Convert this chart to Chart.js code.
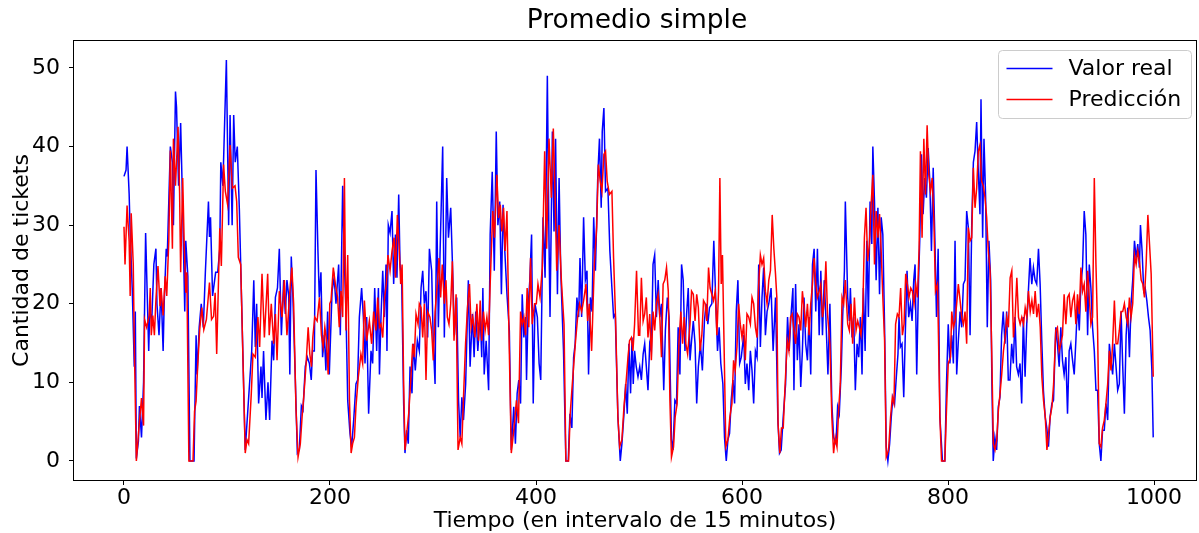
<!DOCTYPE html>
<html>
<head>
<meta charset="utf-8">
<script src="https://cdn.jsdelivr.net/npm/chart.js@4.4.1/dist/chart.umd.min.js"></script>
<style>
  html, body { margin: 0; padding: 0; background: #fff; }
  canvas { display: block; }
</style>
</head>
<body>
<canvas id="chart" width="1199" height="533"></canvas>
<script>
// Datos: [intervalo, cantidad de tickets]
const valorReal = [
  [0,36.2],[2,37],[3,40],[5,34],[6,29],[8,22],[10,12],[11,19],[12,0.3],[14,2.5],[15,7],[17,3],[19,10],[21,29],[23,19],[24,14],[25,19],[27,18],[29,25],[31,27],[32,20],[34,16],[36,22],[38,14],[39,20],[41,27],[42,26],[45,40],[47,38],[48,30],[50,47],[51,45],[53,35],[55,43],[57,32],[59,19],[60,28],[62,23.5],[64,0],[68,0],[70,16],[71,11],[73,17],[75,20],[77,17],[79,24],[82,33],[83,28.5],[84,31],[86,21],[89,24],[91,24],[93,27],[94,38],[96,35],
  [99.4,51],[101.6,30],[103,44],[105,30],[106.5,44],[108,38],[110,40],[112,32],[117.7,1.4],[121,8],[124,14],[126,23],[127.5,14.5],[128.8,20],[130.7,7.3],[133,12],[134,8],[135.5,14],[137.8,5.2],[139.8,10],[141.4,5.2],[143.7,15.3],[145.3,12.8],[147,20.8],[149,22],[150.8,27],[152.8,16],[155,23],[156.6,18.7],[158.2,23],[159.9,21],[161,11],[162.4,26],[164,20.8],[166.4,10],[168.3,1],[170.2,1.4],[172.2,7],[173.8,6.5],[176,12],[178,13.2],[180,12.4],[181.8,10.3],[183,14],[184.8,14],[186.4,37],[188.3,26.7],[189.6,20.8],[191.2,24],[192.8,13.2],[194.5,16],[196,11.5],
  [197.7,19],[199.3,11],[202,21.6],[204,23.3],[205.8,20],[208.4,25],[210,16],[212.3,35],[214,25],[215.5,19],[217.2,7.7],[219.4,3.5],[221,1.8],[223,5.2],[225.2,9.8],[226.8,10.3],[228.5,18.3],[230.7,22],[232.4,18.3],[234,12.4],[235.6,18.3],[237.5,6],[239.8,14],[241.4,12.4],[243.4,22],[245.3,14],[247,22],[248,11],[249.5,18.3],[251.2,24.2],[252.8,18.3],[254.4,25],[255.3,14],[256.6,30],[258.3,29],[260.2,31.8],[261.8,22.5],[263.5,28.8],[265,23.3],[266.7,33.9],[268,25],[269.6,22.9],[271.5,7.3],[272.8,1],[274.4,3.9],[276,2.2],[277.7,12],[279.6,8.6],[280.9,14.9],[282.8,11.5],[284.8,15.3],[286.7,14],[288.4,22],[290,24.2],[291.6,20],[293.2,21.6],[294.8,15.7],[296.5,27],
  [298.7,24.2],[300.3,14.9],[302,9.8],[303.6,33],[305.2,17],[306.8,26.2],[309.4,40],[311,15.7],[313.3,36],[315,28.4],[317.2,32.2],[318.8,25.4],[320.8,16],[323,20.8],[324.8,7.7],[326.4,3],[328,8.1],[329.6,5.2],[331.7,9.8],[334.3,23],[336,12],[338.2,18.7],[339.9,13.2],[341.5,19],[343.5,14],[345.8,18.7],[347.3,13.2],[348.4,22],[349.7,11],[351.6,15.3],[354,9],[355.5,28.8],[357.5,36.8],[359.5,24.2],[361.4,41.9],[363,30],[364.8,33],[366.4,21.2],[368,32.6],[369.6,27],[371.8,21.2],[374.1,16.6],[376,1.4],[378.4,6.9],[380,2.2],[381.7,8.6],[383.3,10.3],[385,7.3],[386.6,21.2],[388.2,15.7],[389.9,18.3],[390.8,10.3],[392.5,20],[394,23],[395.7,28.8],[397.3,7.3],[399,20],
  [401.3,18.3],[403,12.4],[404.6,10.3],[406.8,31],[408.8,23.3],[411,49],[412.6,28],[413.6,18.3],[415.9,41.9],[417.5,29.2],[419,41],[420.8,21.2],[422.4,36],[424,24.2],[426.7,14],[429,0],[431.3,0],[432.9,6],[434.8,4.2],[436.5,13.2],[438,14.9],[439.7,20.8],[441.4,18.3],[442.7,25.8],[444.3,18.3],[446.2,31],[447.9,23],[449.5,24.2],[451,11],[452.8,20.8],[454.4,19],[456,31],[457.7,24.2],[460,36.4],[461.6,41],[463.3,32.2],[464.3,41.9],[465.9,44.9],[467.5,34.3],[469.8,34.7],[471.7,26.7],[473.7,22],[475.3,18.3],[476.9,18.7],[479.5,5.6],[481.8,0],[483.4,2.2],[485.4,6],[487,9.8],[488.6,6],[490.2,14.9],[491.8,8.6],[493.2,15.7],[494.4,9.8],[495.7,14],[497.3,12],[499,10.7],
  [500.7,12],[502.3,10.3],[504,13.6],[505.5,14.9],[507.1,12],[508.7,9],[510.4,14.9],[512,14],[513.6,25],[515.2,26.2],[516.9,18.3],[518.6,23],[520.2,18.3],[521.8,20],[524,9],[525.6,16.6],[527.5,20.8],[529.2,18.3],[531.5,2.7],[533,1.4],[534.8,7.7],[536.4,7.3],[538,17],[539.7,11],[541.3,25],[542.9,23],[544.6,14],[546.2,18.7],[547.8,22],[549.5,12.8],[551,15.3],[552.7,17.8],[554.4,14.9],[556,7.3],[557.6,12],[559.6,14.9],[561.5,11.5],[563.5,17.8],[565.1,20],[566.8,17.4],[568.4,19.5],[570.7,20],[572.6,28],[574.6,20],[576.2,14],[577.8,17],[579.4,12.4],[581.4,9.8],[583,3],[584.7,0],[586.3,2.7],[587.9,3.5],[589.5,7.7],[591.2,10.3],[592.8,7.3],[594.4,19],[596,23],[597.7,12.4],[599.3,13.2],
  [601.6,16],[603.2,9.8],[604.8,12.4],[606.5,9],[608.1,14],[609.7,11.5],[611.3,7.3],[613,14],[614.6,13.2],[616.2,25],[617.8,14.5],[619.4,20.8],[621,24.6],[622.7,16],[624.3,19],[626,20],[628.2,22],[630.2,14],[632.5,20.8],[634.8,5.2],[636.4,1],[638,1.4],[640,5.6],[642.3,9.8],[644.2,18.3],[645.8,14],[647.8,19],[649.4,22],[650.4,9],[652,22.5],[653.7,12.8],[655.3,17.4],[657,9.4],[658.6,14],[660.2,20.8],[661.8,14.9],[663.5,12.8],[665.1,18.3],[666.7,11],[668.4,25],[670,27],[671.6,19],[673.2,27],[674.9,16],[676.5,24.2],[678.1,16],[679.8,23],[681.4,18.3],[683.4,11],[685.3,20],[687.2,7.3],[688.9,3],[691.2,2.2],[692.8,6.9],[694.4,6],[696.4,12],[697.7,18.3],[699.4,24.2],[700.3,33],
  [702.6,20.8],[704.2,17.8],[705.2,22],[706.8,15.7],[708.4,18.3],[710,9],[711.7,14.9],[713.3,13.2],[714.9,18.3],[716.5,11],[717.8,22],[719.5,14],[721.1,28],[722.7,18.3],[724.3,33],[726,27.6],[727,40],[728.6,33],[730.2,23],[731.9,32.2],[733.5,21.2],[735.1,31],[736.7,28.8],[738.4,17],[740,1.8],[741.6,0],[743.3,2.2],[744.9,5.6],[746.5,8.1],[748.1,7.3],[749.8,10.7],[751.4,13.6],[752.4,18.3],[753.7,14.5],[755.3,14.9],[757,8.1],[758.6,16.6],[760.2,24.2],[761.8,18.3],[763.5,20],[765.1,17.8],[766.7,23],[768,25],[769.6,11],[771.3,22.5],[772.6,28.4],[774.2,39],[775.8,31.4],[777.4,36],[779,33.5],[780.7,39.8],[782.3,35.6],[783.9,26.7],[785.6,37.3],[787.2,28.4],[788.8,18.3],[790.4,27],[792.1,5.6],[794.6,0],[796.9,0],[798.5,9.8],[800.2,17.4],[801.8,12.4],
  [803.6,16],[805.2,12.4],[806.8,28],[808.4,11],[810,15.3],[811.7,19],[813.3,17],[814.9,22.5],[816.5,23],[818.1,31.8],[819.7,29.7],[821.4,16],[823,30],[824.6,38],[826.2,39.4],[827.8,43.1],[829.4,36.8],[831,31.4],[832,46],[833.6,28.4],[834.9,41],[836.5,33.5],[838.1,17],[839.7,28],[841.4,23],[842.6,9.8],[843.9,0],[845.5,3],[847.2,1.4],[848.8,6.9],[850.4,8.1],[852,16],[853.6,19],[855.3,14.9],[856.9,19],[858.5,10.3],[860.1,10.3],[861.8,14.9],[863.4,12.4],[865,18.3],[866.6,12],[868.3,11],[869.9,12.4],[871.5,7.3],[873.1,18.3],[874.8,10.7],[876.4,17.4],[878,21.6],[879.6,25.8],[881.3,22.5],[882.9,24.6],[884.5,23],[886.1,22.5],[887.8,27],[889.4,22.5],[891,15.3],[892.6,9],[894.3,5.6],[895.9,4.2],[897.5,1.8],[899.1,5.6],[900.8,7.3],[902.4,7.7],
  [904.6,17],[906.2,14.9],[907.9,12],[909.5,17],[911.1,12.8],[912.7,11],[914.4,13.2],[916,6],[917.6,14],[919.2,14.9],[920.9,12.8],[922.5,11],[924.1,15.3],[925.7,20],[927.4,16.6],[929,22.5],[930.6,24.6],[932.2,31.8],[933.8,28.8],[935.5,16],[937.1,25],[938.7,22],[940.3,17],[942,14],[943.6,9],[945.2,9],[946.8,2.2],[948.4,0],[950,3.9],[951.7,3.9],[953.3,7.3],[955,5.2],[956.6,14.9],[958.2,12.8],[959.8,11],[961.5,14.9],[963.1,12],[964.7,9],[966.3,9.8],[968,19],[969.6,12],[971.2,6],[972.9,16],[974.5,19.5],[976.1,13.2],[977.7,20],[979.3,23],[981,28],[982.6,25.8],[984.2,27.6],[985.8,24.6],[986.8,30],[988.4,26.7],[990,21.6],[991.4,22],[993,20.4],[994.6,18.3],[996.2,16.6],[997.9,11.5],[999.2,3]
];

const prediccion = [
  [0,29.8],[1,25],[3,32.5],[5,28],[6,21],[7,31.5],[9,25],[10,15],[12,0],[15,5],[17,8],[19,4.5],[20,18],[22,17],[24.5,18.5],[25.5,22],[26.5,16],[28,18.5],[29.5,16],[31,20.5],[33,24.8],[35,19.7],[36,22],[38,18.5],[40,23.5],[41.5,21],[43.5,28],[45,39.5],[47,27],[48,41],[50,35],[52.5,42.5],[54,34],[55,24],[57,36],[58.5,27.4],[60,21.4],[61,24],[63,0],[67,0],[68.5,6.3],[70,7.6],[71.5,12],[73.5,16.7],[75.5,19.5],[77.5,16.7],[80,18],[83,22.7],[85,18],[87,18.4],[88.5,21.4],[90,13.6],[93,29.6],[94.5,24.8],
  [96.7,37.7],[98.4,34.3],[100.6,32.6],[103,40.2],[105.2,34.7],[107.8,35],[109.4,33],[111,25.9],[113.3,25],[117.7,1],[119.4,2.7],[121,2.2],[123.6,8.6],[125.2,13.6],[127.5,13.2],[130,18.3],[131.7,14.5],[134,23.8],[136.3,15.7],[139.5,23.8],[141,16],[143,20],[145.3,14.9],[147,18.7],[148.6,12.8],[150.8,21.6],[153.4,18.3],[155.7,23],[158.2,16],[161.5,22.5],[163,24.6],[164.7,20],[167,6.5],[169,0.5],[171.2,2.2],[172.9,5.6],[174.5,8.1],[176.8,12.4],[178.8,17],[180.4,13.6],[182,12],[183.3,15.7],[185.2,18.3],[187.5,17.8],[189.8,20.8],[191.7,16],[193.4,14.5],[195,17],[196.6,15.3],[198.2,11],[199.8,20],
  [201,20.4],[203.2,24.6],[205.2,22.5],[207.4,20.8],[209,17],[210.7,21.6],[212.3,18.3],[214,36],[215.5,16.6],[217.2,26.2],[218.9,7.7],[220.5,1],[222,2.2],[223.7,3],[225.2,6.9],[227.5,10.7],[230,13.6],[231.7,12.4],[233.4,20.4],[235.6,15.3],[238.2,17.8],[240.4,14.9],[242.4,19],[244.6,16.6],[246.3,20.8],[248,17],[249.5,17.4],[251.2,15.7],[253,20.8],[254.7,22.5],[256.3,26.2],[258.3,24.2],[260.2,26.7],[262.2,28.4],[263.5,23.3],[265.4,31.3],[267,27.6],[268.6,22.5],[270,25],[271.5,9.8],[272.8,1.4],[274.8,3.9],[276.4,6],[278.6,10.7],[280.3,14.9],[281.9,13.2],[283.5,18.7],[285.5,17.4],[286.7,20],[288.4,19.5],[290,15.7],[291.6,20],[293.2,10.3],[294.8,19],[297,18.3],
  [298.7,16.6],[300.3,12.8],[302,19],[304.2,22.5],[305.8,25.8],[307.4,20.8],[309,25],[311,20],[312.6,23],[313.9,18.3],[315.5,17.4],[317.2,20],[318.8,25.4],[320.4,15.3],[322.4,21.2],[324.3,1.4],[326.4,3],[328,2.2],[329.6,8.1],[331.6,14.9],[333.5,19.5],[335.4,22.5],[337,17],[338.7,18.3],[340.6,15.7],[342.6,20],[344.2,15.3],[345.8,20.4],[347.3,15.3],[349,19],[350.6,16.6],[352.3,18.3],[354,16],[355.5,22.5],[358,31.8],[359.7,28.4],[362,36.4],[363.6,30.9],[365.3,32.6],[366.8,29.2],[368.5,32.2],[370,26.7],[371.8,31.8],[373.7,16.6],[376,1],[378.4,3.9],[381,7.7],[383,4.8],[385,19],[386.6,17.4],[388.2,18.3],[389.9,16],[391.4,22],[393,17],[394.7,25.8],[396.3,17.4],[398.6,20],
  [400.3,20],[401.9,22.5],[403.9,20.8],[406.1,24.6],[408.4,39.4],[410.3,27],[412.6,41],[414.9,33.5],[416.8,42.3],[418.4,34.3],[420.1,24.2],[422.4,30],[424.6,23],[427.2,17.4],[429,0],[431.6,0],[433.2,6],[434.8,9],[436.5,12],[438.4,15.3],[440.4,18.3],[442.3,20],[444.3,19],[446.2,20.4],[448.5,22.5],[450.1,17.8],[451.7,20],[454,14],[456.6,25],[458.9,29.7],[460.5,37.7],[462.4,35.6],[464,34.3],[465.9,39],[467.5,39.4],[469.1,35.6],[471.3,33.9],[473.7,34.3],[475.3,25.8],[477.2,18.3],[479.5,5.6],[481.2,1.8],[483.4,2.7],[485.4,6.9],[487.6,10.3],[489.3,13.2],[490.8,15.3],[492.6,15.7],[494.1,14],[495.7,17.4],[497.6,24.2],[499.5,16],
  [500.7,16],[502.3,23.3],[504,17.8],[505.5,18.7],[507.1,20.8],[508.7,15.7],[510.4,18.7],[512,12.8],[513.6,19],[515.2,16.6],[516.9,20],[518.6,21.2],[520.2,18.3],[521.8,13.2],[523.4,22.5],[525,23],[526.7,24.6],[528.4,21.6],[530,7.7],[531.5,0.5],[533.5,1.8],[535.1,5.6],[537,7.3],[538.7,14.9],[540.6,19],[542.3,14.9],[543.9,18.3],[545.5,14.9],[547.2,13.6],[549.5,17.4],[551,21.6],[552.7,21.2],[554.4,17.8],[556,21.2],[557.6,19.5],[559.3,14],[561,16],[562.6,20.4],[564.2,20],[565.8,17.8],[567.5,24.6],[569,22],[570.7,21.2],[572.3,20.4],[574,21.6],[575.6,16],[577.2,21.6],[578.5,36],[579.8,22.5],[581,26.2],[582.4,16],[584.3,1.8],[586.3,2.7],[588.2,5.6],[590.2,7.3],[591.8,12.8],[593.4,11.5],[595.1,14.5],[596.7,20],[598.3,17.4],[600,15.7],
  [601.6,17.4],[603.2,12.8],[604.8,18.7],[606.5,18.3],[608.1,17.4],[609.7,20.8],[611.3,20],[613,17],[614.6,15.7],[616.2,22.5],[617.8,26.2],[619.4,25],[621,25.8],[622.7,21.6],[624.3,20],[626,23],[627.6,24.2],[629.3,31.3],[630.9,27],[632.5,23.8],[633.8,20.8],[635,4.7],[636.7,1],[638.3,4.2],[640,4.2],[641.6,9],[643.9,15.3],[645.5,14],[647.1,18.3],[648.7,18.7],[650.4,16.6],[652,14.9],[653.7,18.7],[655.3,18.3],[657,16.6],[658.6,21.6],[660.2,19.5],[661.8,17],[663.5,20],[665.1,16],[666.7,20],[668.4,22.5],[670,25.8],[671.6,22.5],[673.2,20.8],[674.9,21.6],[676.5,22.5],[678.1,18.3],[679.8,20],[681.4,25.4],[683,18.7],[685.3,14.9],[687.2,5.6],[688.9,1],[690.5,3],[692.2,1.8],[693.8,6.5],[695.4,9.8],[697.1,20.8],[698.7,20],[700.3,23],
  [702.6,17.4],[704.2,16.6],[705.8,20],[707.4,14.9],[709.1,20.8],[710.7,16.6],[712.3,17.8],[713.9,17],[715.5,16],[717.2,19],[718.8,28.4],[720.4,32.2],[722,25.4],[723.7,27.6],[725.3,32.6],[727,36.4],[728.6,25],[730.2,31.8],[731.9,28.4],[733.5,31.4],[735.1,26.7],[736.7,20.8],[738.4,15.3],[740,0.5],[742.3,1.4],[744.2,5.6],[745.9,8.1],[747.5,7.3],[749.1,17.4],[750.8,18.7],[752.4,18.3],[754,22],[755.7,16],[757.3,17.4],[758.9,23.8],[760.5,22.5],[762.1,20.8],[763.8,22],[765.4,21.6],[767,20],[768.6,22.5],[770.3,20.8],[771.9,27],[773.2,39.4],[774.8,28.4],[776.5,41],[778.1,33.9],[779.7,42.7],[781.3,36.4],[783,34.3],[784.6,36],[786.2,30.9],[787.8,21.6],[789.8,22.5],[792.1,5.6],[793.7,0],[796.9,0],[798.5,6.5],[800.2,12.4],[802.4,13.2],
  [803.6,19],[805.2,17],[806.8,17.8],[808.4,20],[810,22.5],[811.7,20.4],[813.3,18.3],[814.9,17.4],[816.5,19],[818.1,14.9],[819.7,29.7],[821.4,28],[823,28.4],[824.6,37.3],[826.2,32.2],[827.8,34.7],[829.4,39.4],[831,40.2],[832.6,35.6],[834.2,35],[835.9,33.5],[837.5,31],[839.1,26.7],[840.8,24.2],[842.4,14],[844,2.2],[845.6,1.4],[847.3,2.7],[848.9,6.5],[850.5,8.6],[852.1,11],[853.8,14],[855.4,15.7],[857,18.3],[858.6,17],[860.3,23.3],[861.9,24.2],[863.5,15.7],[865.1,18.3],[866.8,23.3],[868.4,18.3],[870,17.4],[871.6,18.3],[873.3,17.4],[874.9,19.5],[876.5,18.3],[878.1,21.6],[879.8,19],[881.4,20.4],[883,18.7],[884.6,21.6],[886.2,18.3],[887.9,20],[889.5,17],[891.1,10.7],[892.7,7.7],[894.4,5.6],[896,1.4],[897.6,3.5],[899.2,5.6],[900.9,6.9],[902.5,9.8],
  [904.6,16.6],[906.2,17],[907.9,14],[909.5,14.9],[911.1,16],[912.7,21.2],[914.4,17.4],[916,20.8],[917.6,21.2],[919.2,18.3],[920.9,20.4],[922.5,21.2],[924.1,17.4],[925.7,21.2],[927.4,18.7],[929,24.6],[930.6,21.6],[932.2,22.5],[933.8,19],[935.5,24.2],[937.1,20.8],[938.7,17.4],[940.3,18.3],[942,36],[943.6,25],[945.2,16.6],[946.8,2.2],[948.4,1.8],[950,4.2],[951.7,5.2],[953.3,7.3],[955,9.8],[956.6,14],[958.2,11.5],[959.8,14.9],[961.5,20.4],[963.1,14.9],[964.7,14.9],[966.3,16.6],[968,19],[969.6,19],[971.2,20],[972.9,18.3],[974.5,17.4],[976.1,20.8],[977.7,18.3],[979.3,20],[981,26.2],[982.6,25],[984.2,26.7],[985.8,25.4],[987.5,23],[989.1,22.5],[990.7,20.8],[992.3,25],[994,31.3],[995.6,27.6],[997.2,23.8],[999.2,10.7]
];

const xTicks = [0, 200, 400, 600, 800, 1000];
const yTicks = [0, 10, 20, 30, 40, 50];

const FONT = "'DejaVu Sans', 'Liberation Sans', sans-serif";
const toXY = (pts) => pts.map(([x, y]) => ({ x, y }));

// Título, marco y leyenda al estilo matplotlib.
const decoPlugin = {
    id: 'deco',
    afterDraw(chart) {
        const { ctx, chartArea: a } = chart;
        ctx.save();
        ctx.fillStyle = '#000';
        ctx.font = `26.5px ${FONT}`;
        ctx.textAlign = 'center';
        ctx.textBaseline = 'middle';
        ctx.fillText('Promedio simple', (a.left + a.right) / 2 + 2, 21);

        ctx.strokeStyle = '#000';
        ctx.lineWidth = 1;
        ctx.strokeRect(Math.round(a.left) + 0.5, Math.round(a.top) + 0.5,
            Math.round(a.right - a.left) - 1, Math.round(a.bottom - a.top) - 1);

        // Leyenda (arriba a la derecha)
        const bx = a.right - 198.5, by = a.top + 10.5, bw = 193, bh = 68;
        ctx.beginPath();
        ctx.roundRect(bx, by, bw, bh, 4);
        ctx.fillStyle = 'rgba(255,255,255,0.8)';
        ctx.fill();
        ctx.strokeStyle = '#cccccc';
        ctx.stroke();
        const items = [['Valor real', 'blue'], ['Predicción', 'red']];
        items.forEach(([txt, col], i) => {
            const y = by + 18 + i * 31;
            ctx.beginPath();
            ctx.moveTo(bx + 8, y);
            ctx.lineTo(bx + 54, y);
            ctx.strokeStyle = col;
            ctx.lineWidth = 1.5;
            ctx.stroke();
            ctx.fillStyle = '#000';
            ctx.font = `22px ${FONT}`;
            ctx.textAlign = 'left';
            ctx.textBaseline = 'middle';
            ctx.fillText(txt, bx + 70, y + 1);
        });
        ctx.restore();
    },
};

new Chart(document.getElementById('chart'), {
    type: 'line',
    data: {
        datasets: [
            // La predicción va primero para quedar dibujada encima.
            { label: 'Predicción', data: toXY(prediccion), borderColor: 'red', borderWidth: 1.5, pointRadius: 0, tension: 0 },
            { label: 'Valor real', data: toXY(valorReal), borderColor: 'blue', borderWidth: 1.5, pointRadius: 0, tension: 0 },
        ],
    },
    options: {
        responsive: false,
        animation: false,
        devicePixelRatio: 1,
        layout: { padding: { top: 40, right: 2, left: 0, bottom: 0 } },
        plugins: { legend: { display: false }, title: { display: false }, tooltip: { enabled: false } },
        scales: {
            x: {
                type: 'linear',
                min: -49.5,
                max: 1041.7,
                afterBuildTicks: (s) => { s.ticks = xTicks.map((v) => ({ value: v })); },
                afterFit: (s) => { s.height = 52; },
                ticks: { color: '#000', font: { family: FONT, size: 22 }, padding: 0, maxRotation: 0, callback: (v) => String(v) },
                grid: { drawOnChartArea: false, tickLength: 4, color: '#000' },
                border: { display: false },
                title: { display: true, text: 'Tiempo (en intervalo de 15 minutos)', color: '#000', font: { family: FONT, size: 22 }, padding: { top: 0, bottom: -1 } },
            },
            y: {
                min: -2.55,
                max: 53.55,
                afterBuildTicks: (s) => { s.ticks = yTicks.map((v) => ({ value: v })); },
                afterFit: (s) => { s.width = 73; },
                ticks: { color: '#000', font: { family: FONT, size: 22 }, padding: 9, callback: (v) => String(v) },
                grid: { drawOnChartArea: false, tickLength: 4, color: '#000' },
                border: { display: false },
                title: { display: true, text: 'Cantidad de tickets', color: '#000', font: { family: FONT, size: 22 }, padding: { top: 9, bottom: 0 } },
            },
        },
    },
    plugins: [decoPlugin],
});
</script>
</body>
</html>
